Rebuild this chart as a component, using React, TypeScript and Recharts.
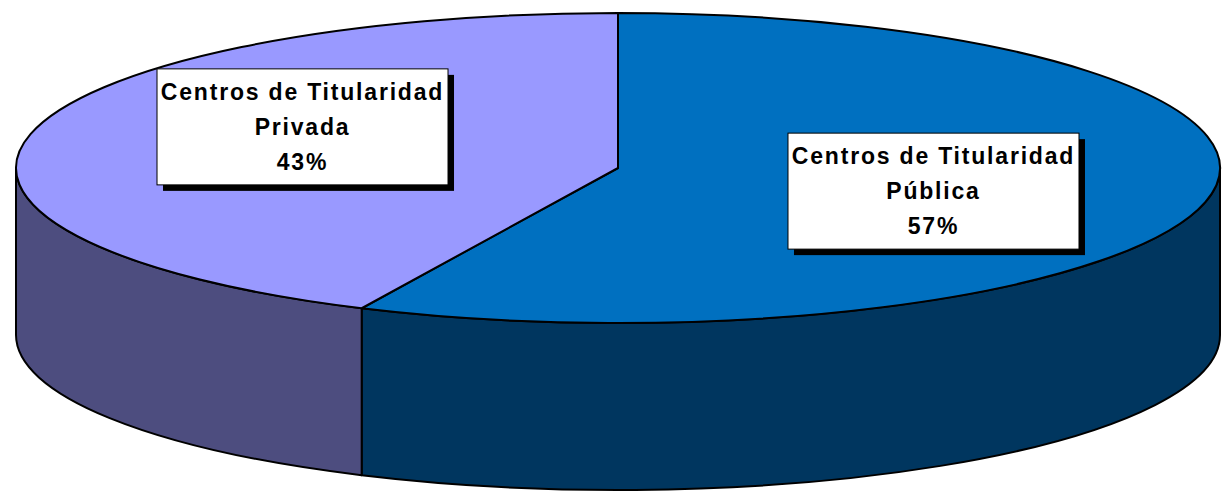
import { PieChart, Pie } from 'recharts'

const categories = ['Centros de Titularidad Pública', 'Centros de Titularidad Privada']
const shares = [57, 43]
const topColors = ['#0070C0', '#9999FF']
const sideColors = ['#00365F', '#4D4D7F']

const data = categories.map((name, i) => ({
  name,
  value: shares[i],
  fill: topColors[i],
  side: sideColors[i],
}))

// vertical squash of the disc and height of the extruded wall
const TILT = 155 / 602
const DEPTH = 167

function Slice3D(props: any) {
  const { cx, cy, outerRadius, startAngle, endAngle, fill } = props
  const side = props.payload?.side ?? props.side
  const rx = outerRadius
  const ry = outerRadius * TILT
  const pt = (a: number, dy = 0) => {
    const r = (a * Math.PI) / 180
    return `${cx + rx * Math.cos(r)},${cy - ry * Math.sin(r) + dy}`
  }
  const hi = Math.max(startAngle, endAngle)
  const lo = Math.min(startAngle, endAngle)

  // only the front half of the rim is visible
  const walls: string[] = []
  for (const k of [-2, -1, 0, 1]) {
    const a = Math.min(hi, k * 360)
    const b = Math.max(lo, k * 360 - 180)
    if (a > b) {
      walls.push(
        `M${pt(a)} A${rx},${ry} 0 0 1 ${pt(b)} L${pt(b, DEPTH)} A${rx},${ry} 0 0 0 ${pt(a, DEPTH)} Z`
      )
    }
  }
  const large = hi - lo > 180 ? 1 : 0
  const top = `M${cx},${cy} L${pt(hi)} A${rx},${ry} 0 ${large} 1 ${pt(lo)} Z`

  return (
    <g>
      {walls.map((d, i) => (
        <path key={i} d={d} fill={side} stroke="#000" strokeWidth={2} strokeLinejoin="round" />
      ))}
      <path d={top} fill={fill} stroke="#000" strokeWidth={2} strokeLinejoin="round" />
    </g>
  )
}

function renderLabel(props: any) {
  const { cx, cy, outerRadius, midAngle, name, percent } = props
  const r = (midAngle * Math.PI) / 180
  const x = cx + outerRadius * 0.537 * Math.cos(r)
  const y = cy - outerRadius * TILT * 0.95 * Math.sin(r) - 9
  const w = 291
  const h = 116
  const cut = name.lastIndexOf(' ')
  const lines = [name.slice(0, cut), name.slice(cut + 1), `${Math.round(percent * 100)}%`]
  return (
    <g>
      <rect x={x - w / 2 + 6} y={y - h / 2 + 6} width={w} height={h} fill="#000" />
      <rect x={x - w / 2} y={y - h / 2} width={w} height={h} fill="#fff" stroke="#000" strokeWidth={1} />
      {lines.map((t, i) => (
        <text
          key={i}
          x={x}
          y={y - 27 + i * 35}
          textAnchor="middle"
          fontFamily="'Liberation Sans', Arial, sans-serif"
          fontWeight="bold"
          fontSize={23}
          letterSpacing={1.8}
          fill="#000"
        >
          {t}
        </text>
      ))}
    </g>
  )
}

export default function App() {
  return (
    <div style={{ position: 'absolute', left: 0, top: 0, background: '#fff' }}>
      <PieChart width={1225} height={493}>
        <Pie
          data={data}
          dataKey="value"
          nameKey="name"
          cx={613}
          cy={163}
          outerRadius={602}
          startAngle={90}
          endAngle={-270}
          shape={Slice3D}
          label={renderLabel}
          labelLine={false}
          isAnimationActive={false}
        />
      </PieChart>
    </div>
  )
}
